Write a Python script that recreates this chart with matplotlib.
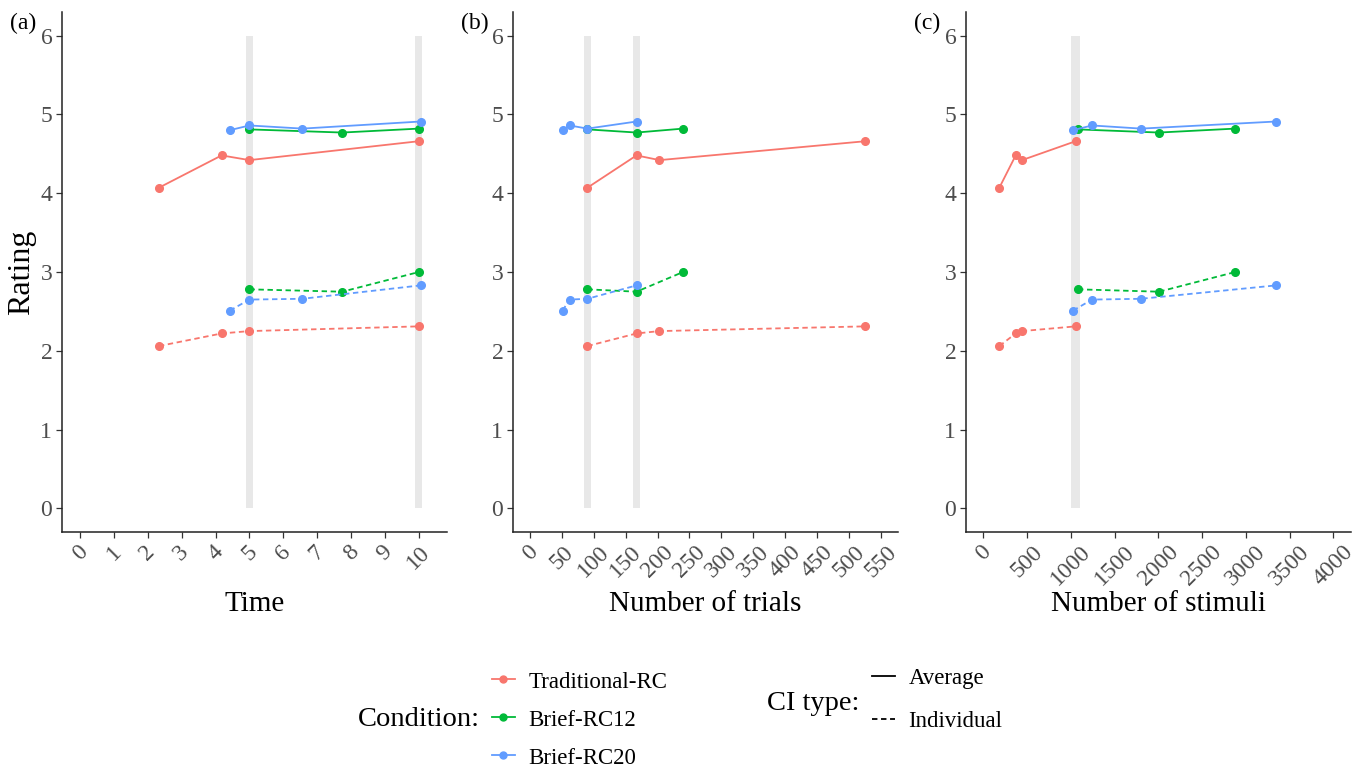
import matplotlib
matplotlib.use("Agg")
import matplotlib.pyplot as plt
from matplotlib.lines import Line2D

plt.rcParams['font.family'] = ['Liberation Serif', 'DejaVu Serif']

conditions = ['Traditional-RC', 'Brief-RC12', 'Brief-RC20']
colors = {'Traditional-RC': '#F8766D', 'Brief-RC12': '#00BA38', 'Brief-RC20': '#619CFF'}

# x values per condition for each panel
time_x = {'Traditional-RC': [2.33, 4.18, 5.0, 10.0],
          'Brief-RC12': [5.0, 7.74, 10.0],
          'Brief-RC20': [4.42, 5.0, 6.56, 10.05]}
trials_x = {'Traditional-RC': [90, 167, 203, 526],
            'Brief-RC12': [90, 167, 240],
            'Brief-RC20': [51, 62, 90, 167]}
stimuli_x = {'Traditional-RC': [183, 370, 442, 1055],
             'Brief-RC12': [1082, 2008, 2880],
             'Brief-RC20': [1025, 1242, 1802, 3345]}

# ratings (same for every panel)
avg_rating = {'Traditional-RC': [4.07, 4.48, 4.42, 4.66],
              'Brief-RC12': [4.81, 4.77, 4.82],
              'Brief-RC20': [4.80, 4.86, 4.82, 4.91]}
ind_rating = {'Traditional-RC': [2.06, 2.22, 2.25, 2.31],
              'Brief-RC12': [2.78, 2.75, 3.00],
              'Brief-RC20': [2.51, 2.65, 2.66, 2.83]}

panel_labels = ['(a)', '(b)', '(c)']
x_titles = ['Time', 'Number of trials', 'Number of stimuli']
x_ticks = [list(range(0, 11)), list(range(0, 551, 50)), list(range(0, 4001, 500))]
x_limits = [(-0.53, 10.83), (-26.7, 577), (-198, 4202)]
band_centers = [[5, 10], [90, 167], [1055]]
band_half = [0.1, 5, 50]
y_ticks = [0, 1, 2, 3, 4, 5, 6]
panel_data = [time_x, trials_x, stimuli_x]

fig = plt.figure(figsize=(13.55, 7.69), dpi=100)
lefts = [62 / 1355, 513 / 1355, 966 / 1355]
width = 385 / 1355
bottom = 1 - 532 / 769
height = 520 / 769

dash = (0, (3, 2))
for i in range(3):
    ax = fig.add_axes([lefts[i], bottom, width, height])
    for c in band_centers[i]:
        ax.fill_betweenx([0, 6], c - band_half[i], c + band_half[i],
                         color='#E8E8E8', linewidth=0, zorder=0)
    for cond in conditions:
        xs = panel_data[i][cond]
        ax.plot(xs, avg_rating[cond], color=colors[cond], lw=1.3,
                marker='o', ms=5.5, zorder=2)
        ax.plot(xs, ind_rating[cond], color=colors[cond], lw=1.3, ls=dash,
                marker='o', ms=5.5, zorder=2)
    ax.set_xlim(*x_limits[i])
    ax.set_ylim(-0.3, 6.3)
    ax.set_xticks(x_ticks[i])
    ax.set_xticklabels([str(t) for t in x_ticks[i]], rotation=45, ha='center', va='top')
    ax.set_yticks(y_ticks)
    ax.tick_params(axis='both', labelsize=17, labelcolor='#4D4D4D', color='#333333',
                   length=4, width=0.9)
    ax.tick_params(axis='x', pad=3)
    ax.tick_params(axis='y', pad=3)
    for s in ['top', 'right']:
        ax.spines[s].set_visible(False)
    for s in ['left', 'bottom']:
        ax.spines[s].set_linewidth(1.1)
        ax.spines[s].set_color('#222222')
    ax.set_xlabel(x_titles[i], fontsize=21, va='center')
    ax.xaxis.set_label_coords(0.5, (532 - 604) / 520)
    if i == 0:
        ax.set_ylabel('Rating', fontsize=23, va='center')
        ax.yaxis.set_label_coords(-(62 - 22) / 385, 0.5)
    fig.text(lefts[i] - 52 / 1355, 1 - 23 / 769, panel_labels[i], fontsize=17,
             ha='left', va='center')

# condition legend
cond_handles = [Line2D([], [], color=colors[c], lw=1.3, marker='o', ms=5) for c in conditions]
fig.text(358 / 1355, 1 - 720 / 769, 'Condition:', fontsize=20.5, ha='left', va='center')
fig.legend(cond_handles, conditions, loc='center left', bbox_to_anchor=(492 / 1355, 1 - 720 / 769),
           frameon=False, fontsize=16.5, handlelength=1.0, handletextpad=0.6,
           labelspacing=0.74, borderpad=0, borderaxespad=0)

# CI type legend
ci_handles = [Line2D([], [], color='black', lw=1.3),
              Line2D([], [], color='black', lw=1.3, ls=dash)]
fig.text(767 / 1355, 1 - 703 / 769, 'CI type:', fontsize=20.5, ha='left', va='center')
fig.legend(ci_handles, ['Average', 'Individual'], loc='center left',
           bbox_to_anchor=(872 / 1355, 1 - 700 / 769), frameon=False, fontsize=16.5,
           handlelength=1.0, handletextpad=0.6, labelspacing=0.95, borderpad=0,
           borderaxespad=0)

fig.savefig('out.png', dpi=100)
